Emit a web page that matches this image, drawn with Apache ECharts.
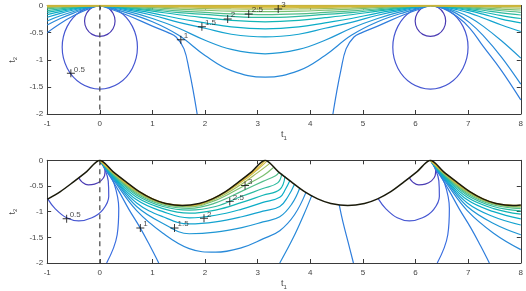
<!DOCTYPE html>
<html><head><meta charset="utf-8">
<script src="https://cdn.jsdelivr.net/npm/echarts@6/dist/echarts.min.js"></script>
<style>html,body{margin:0;padding:0;background:#fff}#c{width:526px;height:291px}</style>
</head><body><div id="c"></div>
<script>
const FONT = '"Liberation Sans", Arial, sans-serif';
const xMin = -1, xMax = 8, yMin = -2, yMax = 0;

// ---------- TOP PLOT DATA ----------
const topSmall0 = [[0,0],[0.145,-0.038],[0.251,-0.143],[0.29,-0.285],[0.251,-0.428],[0.145,-0.532],[0,-0.57],[-0.145,-0.532],[-0.251,-0.428],[-0.29,-0.285],[-0.251,-0.143],[-0.145,-0.038],[0,0]];
const topSmall2 = [[6.283,0],[6.428,-0.038],[6.534,-0.143],[6.573,-0.285],[6.534,-0.428],[6.428,-0.532],[6.283,-0.57],[6.138,-0.532],[6.032,-0.428],[5.993,-0.285],[6.032,-0.143],[6.138,-0.038],[6.283,0]];
const topHalf0 = [[0,0],[0.357,-0.103],[0.619,-0.385],[0.715,-0.77],[0.619,-1.155],[0.357,-1.437],[0,-1.54],[-0.357,-1.437],[-0.619,-1.155],[-0.715,-0.77],[-0.619,-0.385],[-0.357,-0.103],[0,0]];
const topHalf2 = [[6.283,0],[6.64,-0.103],[6.902,-0.385],[6.998,-0.77],[6.902,-1.155],[6.64,-1.437],[6.283,-1.54],[5.926,-1.437],[5.664,-1.155],[5.568,-0.77],[5.664,-0.385],[5.926,-0.103],[6.283,0]];
const topL1a = [[0,0],[0.5,-0.17],[1,-0.38],[1.3,-0.5],[1.45,-0.58],[1.6,-0.8],[1.7,-1.2],[1.78,-1.6],[1.85,-2]];
const topL1b = [[4.43,-2],[4.5,-1.6],[4.58,-1.2],[4.68,-0.8],[4.83,-0.58],[4.98,-0.5],[5.28,-0.38],[5.78,-0.17],[6.283,0]];
const topL1c = [[6.283,0],[6.533,-0.06],[6.783,-0.2],[7.033,-0.42],[7.283,-0.75],[7.633,-1.2],[8,-1.74]];
const topL1d = [[-1,-0.5],[-0.75,-0.33],[-0.5,-0.19],[-0.25,-0.075],[0,0]];

const topUx = [0,0.5,1,1.5,2,2.5,3.1416,3.78,4.28,4.78,5.28,5.78,6.283];
const topU = [
  [0,-0.13,-0.30,-0.55,-0.92,-1.2,-1.32,-1.2,-0.92,-0.55,-0.30,-0.13,0],
  [0,-0.10,-0.24,-0.42,-0.64,-0.81,-0.89,-0.81,-0.64,-0.42,-0.24,-0.10,0],
  [0,-0.075,-0.18,-0.31,-0.42,-0.53,-0.58,-0.53,-0.42,-0.31,-0.18,-0.075,0],
  [0,-0.058,-0.14,-0.24,-0.32,-0.395,-0.43,-0.395,-0.32,-0.24,-0.14,-0.058,0],
  [0,-0.044,-0.105,-0.17,-0.225,-0.275,-0.30,-0.275,-0.225,-0.17,-0.105,-0.044,0],
  [0,-0.033,-0.08,-0.13,-0.165,-0.2,-0.22,-0.2,-0.165,-0.13,-0.08,-0.033,0],
  [0,-0.025,-0.06,-0.1,-0.128,-0.156,-0.17,-0.156,-0.128,-0.1,-0.06,-0.025,0],
  [0,-0.017,-0.04,-0.068,-0.088,-0.104,-0.112,-0.104,-0.088,-0.068,-0.04,-0.017,0],
  [0,-0.011,-0.026,-0.044,-0.056,-0.064,-0.068,-0.064,-0.056,-0.044,-0.026,-0.011,0],
  [0,-0.007,-0.016,-0.027,-0.034,-0.04,-0.043,-0.04,-0.034,-0.027,-0.016,-0.007,0],
  [0,-0.004,-0.009,-0.015,-0.019,-0.023,-0.025,-0.023,-0.019,-0.015,-0.009,-0.004,0],
  [0,-0.002,-0.004,-0.007,-0.009,-0.011,-0.012,-0.011,-0.009,-0.007,-0.004,-0.002,0]
];
const topLx = [-1,-0.75,-0.5,-0.25,0];
const topLeft = [
  [-0.36,-0.24,-0.14,-0.055,0],
  [-0.285,-0.19,-0.11,-0.043,0],
  [-0.217,-0.145,-0.083,-0.032,0],
  [-0.168,-0.112,-0.064,-0.025,0],
  [-0.126,-0.084,-0.048,-0.019,0],
  [-0.095,-0.063,-0.036,-0.014,0],
  [-0.064,-0.043,-0.024,-0.009,0],
  [-0.04,-0.027,-0.015,-0.006,0],
  [-0.024,-0.016,-0.009,-0.004,0],
  [-0.013,-0.009,-0.005,-0.002,0],
  [-0.006,-0.004,-0.002,-0.001,0],
  [-0.002,-0.001,-0.001,0,0]
];
const topRx = [6.283,6.533,6.783,7.033,7.283,7.633,8];
const topRight = [
  [0,-0.045,-0.15,-0.32,-0.55,-0.95,-1.45],
  [0,-0.035,-0.11,-0.22,-0.38,-0.65,-0.97],
  [0,-0.025,-0.075,-0.14,-0.23,-0.36,-0.48],
  [0,-0.02,-0.055,-0.1,-0.16,-0.25,-0.32],
  [0,-0.015,-0.042,-0.076,-0.12,-0.185,-0.24],
  [0,-0.011,-0.031,-0.056,-0.088,-0.135,-0.175],
  [0,-0.008,-0.022,-0.04,-0.063,-0.097,-0.125],
  [0,-0.005,-0.015,-0.027,-0.042,-0.065,-0.083],
  [0,-0.003,-0.009,-0.016,-0.025,-0.039,-0.05],
  [0,-0.001,-0.004,-0.007,-0.011,-0.017,-0.022],
  [0,-0.001,-0.002,-0.003,-0.005,-0.008,-0.01],
  [0,0,-0.001,-0.001,-0.002,-0.003,-0.004]
];
const topEdge = [[-1,-0.004],[8,-0.004]];
const topLabelPos = [[-0.55,-1.25],[1.54,-0.63],[1.94,-0.39],[2.43,-0.25],[2.83,-0.155],[3.39,-0.066]];
const topLabelTxt = ['0.5','1','1.5','2','2.5','3'];

// ---------- BOTTOM PLOT DATA ----------
const botBoundary = [[-1,-0.76],[-0.75,-0.61],[-0.5,-0.42],[-0.25,-0.22],[0,0],[0.25,-0.22],[0.5,-0.42],[0.75,-0.61],[1,-0.75],[1.25,-0.84],[1.571,-0.88],[1.89,-0.84],[2.14,-0.75],[2.39,-0.61],[2.64,-0.42],[2.89,-0.22],[3.1416,0],[3.39,-0.22],[3.64,-0.42],[3.89,-0.61],[4.14,-0.75],[4.39,-0.84],[4.712,-0.88],[5.03,-0.84],[5.28,-0.75],[5.53,-0.61],[5.78,-0.42],[6.03,-0.22],[6.283,0],[6.53,-0.22],[6.78,-0.42],[7.03,-0.61],[7.28,-0.75],[7.53,-0.84],[7.854,-0.88],[8,-0.87]];
const botSmall0 = [[-0.40,-0.343],[-0.33,-0.43],[-0.22,-0.48],[-0.1,-0.465],[0.02,-0.40],[0.09,-0.3],[0.1,-0.18],[0.06,-0.07],[0,0]];
const botSmall2 = [[5.883,-0.343],[5.953,-0.43],[6.063,-0.48],[6.183,-0.465],[6.303,-0.40],[6.373,-0.3],[6.383,-0.18],[6.343,-0.07],[6.283,0]];
const botHalf0 = [[-0.99,-0.75],[-0.85,-0.94],[-0.63,-1.12],[-0.4,-1.18],[-0.15,-1.12],[0.06,-0.96],[0.17,-0.7],[0.16,-0.4],[0.08,-0.14],[0,0]];
const botHalf2 = [[5.293,-0.75],[5.433,-0.94],[5.653,-1.12],[5.883,-1.18],[6.133,-1.12],[6.343,-0.96],[6.453,-0.7],[6.443,-0.4],[6.363,-0.14],[6.283,0]];
const botBulge0 = [[0,0],[0.12,-0.2],[0.27,-0.45],[0.36,-0.94],[0.33,-1.45],[0.13,-2]];
const botBulge2 = [[6.283,0],[6.403,-0.2],[6.553,-0.45],[6.643,-0.94],[6.613,-1.45],[6.413,-2]];
const botL10 = [[0,0],[0.15,-0.24],[0.35,-0.58],[0.55,-0.95],[0.77,-1.32],[0.95,-1.66],[1.12,-2]];
const botL12 = [[6.283,0],[6.433,-0.24],[6.633,-0.58],[6.833,-0.95],[7.053,-1.32],[7.233,-1.66],[7.403,-2]];
const botPi1 = [[4.03,-0.683],[3.88,-1.05],[3.68,-1.5],[3.42,-2]];
const botPi2 = [[4.55,-0.868],[4.62,-1.2],[4.72,-1.6],[4.82,-2]];
// contours from the cusp at t1 = 0, running under the boundary
const botV = [
  [[0,0],[0.3,-0.44],[0.7,-0.98],[1.2,-1.42],[1.7,-1.72],[2.2,-1.79],[2.7,-1.7],[3.1,-1.53],[3.42,-1.37],[3.7,-1.06],[3.92,-0.62]],
  [[0,0],[0.3,-0.41],[0.7,-0.9],[1.2,-1.23],[1.7,-1.43],[2.2,-1.4],[2.7,-1.31],[3.1,-1.2],[3.42,-1.1],[3.65,-0.85],[3.8,-0.54]],
  [[0,0],[0.3,-0.39],[0.7,-0.83],[1.2,-1.1],[1.7,-1.24],[2.2,-1.2],[2.7,-1.1],[3.1,-0.99],[3.42,-0.9],[3.58,-0.7],[3.7,-0.466]],
  [[0,0],[0.3,-0.37],[0.7,-0.77],[1.2,-1.0],[1.7,-1.12],[2.2,-1.07],[2.7,-0.95],[3.1,-0.82],[3.42,-0.72],[3.53,-0.56],[3.61,-0.4]],
  [[0,0],[0.3,-0.35],[0.7,-0.72],[1.2,-0.94],[1.7,-1.03],[2.2,-0.97],[2.7,-0.82],[3.1,-0.68],[3.42,-0.57],[3.52,-0.31]],
  [[0,0],[0.3,-0.33],[0.7,-0.68],[1.2,-0.9],[1.7,-0.97],[2.2,-0.9],[2.7,-0.7],[3.1,-0.55],[3.38,-0.44],[3.46,-0.26]],
  [[0,0],[0.3,-0.315],[0.7,-0.65],[1.2,-0.87],[1.7,-0.935],[2.2,-0.83],[2.7,-0.6],[3.1,-0.41],[3.34,-0.3],[3.41,-0.23]],
  [[0,0],[0.3,-0.3],[0.7,-0.625],[1.2,-0.85],[1.7,-0.908],[2.2,-0.78],[2.7,-0.52],[3.1,-0.3],[3.3,-0.14]],
  [[0,0],[0.3,-0.29],[0.7,-0.605],[1.2,-0.84],[1.7,-0.893],[2.2,-0.75],[2.7,-0.46],[3.0,-0.24],[3.22,-0.07]],
  [[0,0],[0.3,-0.28],[0.7,-0.59],[1.2,-0.832],[1.7,-0.882],[2.2,-0.73],[2.7,-0.42],[3.0,-0.18],[3.17,-0.02]],
  [[0,0],[0.3,-0.27],[0.7,-0.578],[1.2,-0.826],[1.7,-0.876],[2.2,-0.72],[2.7,-0.395],[3.0,-0.15],[3.1416,0]]
];
const botVRx = [6.283,6.583,6.983,7.483,8];
const botVR = [
  [0,-0.44,-0.98,-1.42,-1.74],
  [0,-0.41,-0.9,-1.23,-1.45],
  [0,-0.39,-0.83,-1.1,-1.26],
  [0,-0.37,-0.77,-1.0,-1.14],
  [0,-0.35,-0.72,-0.94,-1.05],
  [0,-0.33,-0.68,-0.9,-0.985],
  [0,-0.315,-0.65,-0.87,-0.94],
  [0,-0.3,-0.625,-0.85,-0.912],
  [0,-0.29,-0.605,-0.84,-0.895],
  [0,-0.28,-0.59,-0.832,-0.884],
  [0,-0.27,-0.578,-0.826,-0.877]
];
const botLabelPos = [[-0.63,-1.14],[0.77,-1.32],[1.42,-1.32],[1.98,-1.13],[2.47,-0.8],[2.76,-0.49]];
const botLabelTxt = ['0.5','1','1.5','2','2.5','3'];
const dashLine = [[0,0],[0,-2]];

// colours (parula-like)
const cSmall = '#4b3cb4', cHalf = '#4657d2', cL1 = '#2f7ddc', cBulge = '#3a6ee0';
const cU = ['#2889d9','#1f97d4','#13a3cf','#0aadc6','#12b5b5','#2dba9f','#52bd89','#7bbf70','#a3bd5a','#c8ba48','#e6bb3a','#f5d02a'];

function ln(g, data, color, w, z) {
  return {type:'line', xAxisIndex:g*2, yAxisIndex:g*2, data:data, smooth:0.4, symbol:'none',
    lineStyle:{color:color, width:w||1.2}, silent:true, z:z||2, animation:false, clip:true};
}
function zipX(xs, ys) { return xs.map((x,i)=>[x, ys[i]]); }

const series = [];
series.push(ln(0, topSmall0, cSmall), ln(0, topSmall2, cSmall), ln(0, topHalf0, cHalf), ln(0, topHalf2, cHalf));
series.push(ln(0, topL1a, cL1), ln(0, topL1b, cL1), ln(0, topL1c, cL1), ln(0, topL1d, cL1));
topU.forEach((ys,i)=>series.push(ln(0, zipX(topUx, ys), cU[i])));
topLeft.forEach((ys,i)=>series.push(ln(0, zipX(topLx, ys), cU[i])));
topRight.forEach((ys,i)=>series.push(ln(0, zipX(topRx, ys), cU[i])));
series.push(ln(0, topEdge, '#c9b33a', 2, 3));
series.push({type:'line', xAxisIndex:0, yAxisIndex:0, data:dashLine, symbol:'none', silent:true, z:3,
  lineStyle:{color:'#505050', width:1.3, type:[5,4]}});
series.push(ln(1, botSmall0, cSmall), ln(1, botSmall2, cSmall), ln(1, botHalf0, cHalf), ln(1, botHalf2, cHalf));
series.push(ln(1, botBulge0, cBulge), ln(1, botBulge2, cBulge), ln(1, botL10, cL1), ln(1, botL12, cL1));
series.push(ln(1, botPi1, cU[0]), ln(1, botPi2, cL1));
botV.forEach((d,i)=>series.push(ln(1, d, cU[i])));
botVR.forEach((ys,i)=>series.push(ln(1, zipX(botVRx, ys), cU[i])));
series.push({type:'line', xAxisIndex:2, yAxisIndex:2, data:dashLine, symbol:'none', silent:true, z:3,
  lineStyle:{color:'#505050', width:1.3, type:[5,4]}});
series.push({type:'line', xAxisIndex:2, yAxisIndex:2, data:botBoundary, smooth:0.3, symbol:'none', silent:true, z:5,
  lineStyle:{color:'#1a1a0a', width:1.5}});

const plusPath = 'path://M-0.12,-1H0.12V-0.12H1V0.12H0.12V1H-0.12V0.12H-1V-0.12H-0.12Z';
function labels(g, pos, txt) {
  return {type:'scatter', xAxisIndex:g*2, yAxisIndex:g*2, symbol:plusPath, symbolSize:8, z:10, silent:true,
    itemStyle:{color:'#000'},
    data: pos.map((p,i)=>({value:p, name:txt[i]})),
    label:{show:true, formatter:'{b}', position:'right', distance:-1, offset:[0,-4], fontSize:8, color:'#222', fontFamily:FONT}};
}
series.push(labels(0, topLabelPos, topLabelTxt), labels(1, botLabelPos, botLabelTxt));

const axCol = '#3a3a3a';
function xAx(g, pos, nameTxt) {
  const o = {gridIndex:g, type:'value', min:xMin, max:xMax, interval:1, position:pos,
    axisLine:{show:true, onZero:false, lineStyle:{color:axCol, width:1}},
    axisTick:{show:true, inside:true, length:4, lineStyle:{color:axCol}},
    axisLabel:{show:pos==='bottom', fontSize:8, color:'#444', margin:6, fontFamily:FONT},
    splitLine:{show:false}};
  if (nameTxt) {
    o.name = '{t|t}{s|' + nameTxt + '}';
    o.nameLocation = 'middle'; o.nameGap = 15;
    o.nameTextStyle = {rich:{t:{fontSize:9, color:'#444', fontFamily:FONT}, s:{fontSize:6, color:'#444', fontFamily:FONT, padding:[6,0,0,0]}}};
  }
  return o;
}
function yAx(g, pos, nameTxt) {
  const o = {gridIndex:g, type:'value', min:yMin, max:yMax, interval:0.5, position:pos,
    axisLine:{show:true, onZero:false, lineStyle:{color:axCol, width:1}},
    axisTick:{show:true, inside:true, length:4, lineStyle:{color:axCol}},
    axisLabel:{show:pos==='left', fontSize:8, color:'#444', margin:4, fontFamily:FONT},
    splitLine:{show:false}};
  if (nameTxt) {
    o.name = '{t|t}{s|' + nameTxt + '}';
    o.nameLocation = 'middle'; o.nameGap = 21; o.nameRotate = 90;
    o.nameTextStyle = {rich:{t:{fontSize:9, color:'#444', fontFamily:FONT}, s:{fontSize:6, color:'#444', fontFamily:FONT, padding:[6,0,0,0]}}};
  }
  return o;
}

const chart = echarts.init(document.getElementById('c'), null, {renderer:'canvas'});
chart.setOption({
  animation:false,
  backgroundColor:'#fff',
  grid:[{left:27, top:5.5, width:494, height:108.5}, {left:27, top:160.3, width:494, height:109}],
  xAxis:[xAx(0,'bottom','1'), xAx(0,'top'), xAx(1,'bottom','1'), xAx(1,'top')],
  yAxis:[yAx(0,'left','2'), yAx(0,'right'), yAx(1,'left','2'), yAx(1,'right')],
  series:series
});
</script></body></html>
